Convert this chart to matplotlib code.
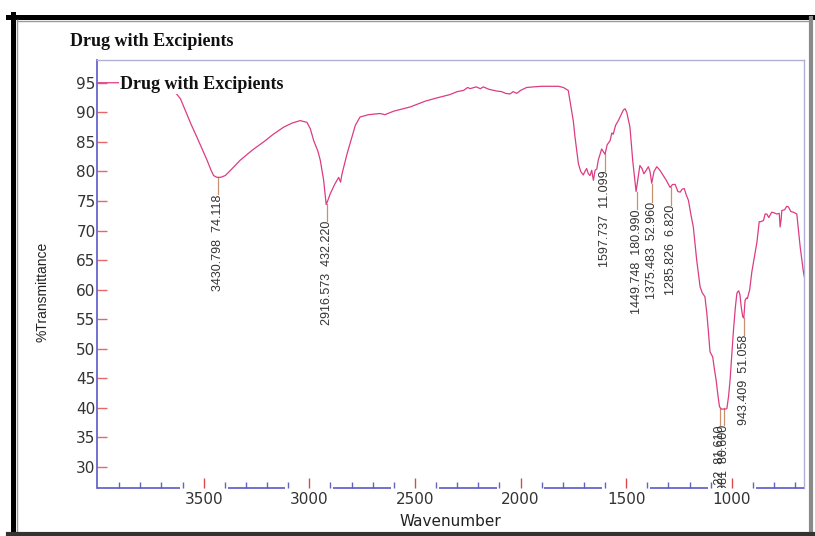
import matplotlib
matplotlib.use("Agg")
import matplotlib.pyplot as plt
from matplotlib.lines import Line2D

# ---------------- data ----------------
wavenumber = [4005, 3950, 3880, 3800, 3700, 3642, 3610, 3587, 3560, 3532, 3505, 3484,
              3465, 3453, 3437, 3420, 3398, 3370, 3327, 3270, 3216, 3170, 3121, 3080,
              3043, 3011, 2995, 2979, 2960, 2948, 2932, 2920, 2910, 2901, 2880, 2861,
              2852, 2845, 2821, 2800, 2782, 2760, 2720, 2665, 2642, 2600, 2523, 2450,
              2400, 2334, 2300, 2270, 2250, 2239, 2210, 2190, 2176, 2150, 2113, 2090,
              2070, 2050, 2035, 2018, 2000, 1971, 1940, 1900, 1860, 1820, 1797, 1774,
              1758, 1750, 1742, 1726, 1715, 1703, 1695, 1687, 1679, 1671, 1663, 1655,
              1647, 1639, 1632, 1616, 1600, 1590, 1576, 1568, 1561, 1550, 1537, 1525,
              1513, 1505, 1497, 1482, 1469, 1460, 1453, 1445, 1435, 1425, 1416, 1405,
              1395, 1387, 1379, 1368, 1355, 1340, 1324, 1310, 1292, 1280, 1268, 1255,
              1244, 1235, 1225, 1215, 1205, 1195, 1182, 1166, 1150, 1140, 1127, 1118,
              1111, 1103, 1090, 1082, 1074, 1065, 1058, 1050, 1040, 1030, 1023, 1015,
              1008, 1000, 992, 983, 976, 973, 967, 961, 955, 948, 943, 937, 930, 926,
              915, 905, 893, 881, 870, 862, 850, 842, 834, 825, 811, 800, 787, 775,
              771, 766, 763, 750, 740, 732, 720, 708, 692, 676, 660, 655]
transmittance = [95.0, 95.0, 95.0, 94.8, 94.2, 93.7, 92.3, 90.3, 88.0, 85.8, 83.6, 81.9,
                 80.2, 79.3, 79.0, 79.0, 79.3, 80.3, 81.9, 83.6, 85.0, 86.3, 87.5, 88.2,
                 88.6, 88.3, 87.2, 85.2, 83.5, 81.9, 78.5, 74.4, 75.3, 76.2, 77.8, 79.0,
                 78.2, 79.6, 83.0, 85.6, 87.8, 89.2, 89.6, 89.8, 89.6, 90.2, 90.9, 91.9,
                 92.4, 93.0, 93.5, 93.7, 94.2, 94.0, 94.3, 94.0, 94.3, 93.9, 93.6, 93.5,
                 93.2, 93.1, 93.5, 93.2, 93.7, 94.2, 94.3, 94.4, 94.4, 94.4, 94.2, 93.7,
                 90.3, 88.5, 85.8, 81.3, 80.0, 79.4, 80.0, 80.5, 79.6, 79.3, 80.2, 78.5,
                 80.2, 80.4, 81.9, 83.8, 82.9, 84.5, 85.2, 86.5, 86.3, 87.8, 88.6, 89.5,
                 90.4, 90.6, 90.0, 87.5, 81.9, 79.0, 76.6, 78.5, 81.0, 80.5, 79.6, 80.2,
                 80.8, 80.0, 78.0, 80.0, 80.8, 80.2, 79.3, 78.5, 77.3, 77.8, 77.8, 76.6,
                 76.5, 77.0, 77.1, 76.0, 75.1, 73.0, 70.6, 65.0, 60.5, 59.5, 58.8, 56.0,
                 53.1, 49.5, 48.6, 46.5, 44.7, 42.0, 40.2, 39.8, 39.8, 39.8, 39.9, 42.0,
                 44.7, 49.0, 53.1, 57.0, 59.3, 59.6, 59.8, 59.1, 57.0, 55.4, 55.2, 58.2,
                 58.6, 58.5, 60.0, 63.0, 65.5, 68.0, 71.5, 71.5, 71.7, 72.8, 72.8, 72.2,
                 73.1, 73.0, 72.8, 72.9, 70.6, 72.0, 73.4, 73.5, 74.1, 74.0, 73.2, 73.1,
                 72.8, 67.2, 62.8, 62.0]

peak_x = [3430.798, 2916.573, 1597.737, 1449.748, 1375.483, 1285.826, 1057.122, 1038.981, 943.409]
peak_y = [79.0, 74.5, 83.0, 76.5, 77.8, 77.3, 40.0, 40.0, 55.2]
peak_labels = ["3430.798  74.118", "2916.573  432.220", "1597.737  11.099",
               "1449.748  180.990", "1375.483  52.960", "1285.826  6.820",
               "1057.122  81.610", "1038.981  80.600", "943.409  51.058"]

x_major = [3500, 3000, 2500, 2000, 1500, 1000]
x_minor = [3900, 3800, 3700, 3600, 3400, 3300, 3200, 3100, 2900, 2800, 2700, 2600,
           2400, 2300, 2200, 2100, 1900, 1800, 1700, 1600, 1400, 1300, 1200, 1100,
           900, 800, 700]
y_ticks = [30, 35, 40, 45, 50, 55, 60, 65, 70, 75, 80, 85, 90, 95]

title = "Drug with Excipients"

# ---------------- figure ----------------
W, H = 815, 536
fig = plt.figure(figsize=(W / 100, H / 100), dpi=100)
fig.patch.set_facecolor("white")

ax_l, ax_r, ax_t, ax_b = 97, 804, 60, 488
ax = fig.add_axes([ax_l / W, 1 - ax_b / H, (ax_r - ax_l) / W, (ax_b - ax_t) / H])

XMIN, XMAX = 4005, 658
YMIN, YMAX = 26.45, 98.85
ax.set_xlim(XMIN, XMAX)
ax.set_ylim(YMIN, YMAX)

ax.plot(wavenumber, transmittance, color="#dc3c82", lw=0.9, zorder=3)

# peak markers
drop = 2.9
for px_, py_, lab in zip(peak_x, peak_y, peak_labels):
    ax.plot([px_, px_], [py_, py_ - drop], color="#c8906e", lw=0.9, zorder=2)
    t = ax.text(px_, py_ - drop, lab, rotation=90, ha="center", va="top",
                fontsize=9, family="Liberation Sans", color="#333333",
                clip_on=True, zorder=2)
    t.set_clip_box(ax.bbox)

# inner title
ax.text(0.0325, 0.942, title, transform=ax.transAxes, ha="left", va="center",
        fontsize=13, family="Liberation Serif", fontweight="bold", color="#111111",
        zorder=5, bbox=dict(facecolor="white", edgecolor="none", pad=0.5))

# ticks
ax.set_xticks(x_major)
ax.set_xticks(x_minor, minor=True)
ax.set_yticks(y_ticks)
ax.tick_params(axis="x", which="major", direction="in", length=7, width=1,
               color="#e04848", labelsize=11, labelcolor="#333333", pad=3)
ax.tick_params(axis="x", which="minor", direction="in", length=4.5, width=1,
               color="#6464c0")
ax.tick_params(axis="y", which="major", direction="in", length=7, width=1,
               color="#e46a6a", labelsize=11, labelcolor="#333333", pad=1)
for lab in ax.get_xticklabels() + ax.get_yticklabels():
    lab.set_family("DejaVu Sans")

ax.set_xlabel("Wavenumber", fontsize=11, family="DejaVu Sans", color="#222222", labelpad=5)
ax.set_ylabel("%Transmittance", fontsize=10, family="Liberation Sans", color="#222222")
ax.yaxis.set_label_coords(-0.067, 0.458)

# spines
ax.spines["left"].set_color("#5a5ac8")
ax.spines["left"].set_linewidth(1.2)
for s in ("top", "right"):
    ax.spines[s].set_color("#b0b0d4")
    ax.spines[s].set_linewidth(1.0)
ax.spines["bottom"].set_visible(False)

# broken bottom axis line (gaps around major labels)
gap = 113
edges = [XMIN] + [v for m in x_major for v in (m + gap, m - gap)] + [XMAX]
for a, b in zip(edges[0::2], edges[1::2]):
    ax.plot([a, b], [YMIN, YMIN], color="#5a5ac8", lw=1.2, clip_on=False,
            solid_capstyle="butt", zorder=4)

# outer title
fig.text(70 / W, 1 - 41 / H, title, ha="left", va="center", fontsize=13,
         family="Liberation Serif", fontweight="bold", color="#111111")

# outer frame
def fx(p):
    return p / W

def fy(p):
    return 1 - p / H

fig.add_artist(Line2D([fx(8), fx(815)], [fy(16.5), fy(16.5)], color="black", lw=3.6))
fig.add_artist(Line2D([fx(12.5), fx(12.5)], [fy(14), fy(536)], color="black", lw=3.6))
fig.add_artist(Line2D([fx(17), fx(808)], [fy(20.5), fy(20.5)], color="#9a9a9a", lw=1.0))
fig.add_artist(Line2D([fx(16.5), fx(16.5)], [fy(20), fy(531)], color="#9a9a9a", lw=1.0))
fig.add_artist(Line2D([fx(810.5), fx(810.5)], [fy(18), fy(536)], color="#8a8a8a", lw=3.0))
fig.add_artist(Line2D([fx(8), fx(815)], [fy(533.5), fy(533.5)], color="#333333", lw=3.0))

fig.savefig("out.png", dpi=100, facecolor="white")
